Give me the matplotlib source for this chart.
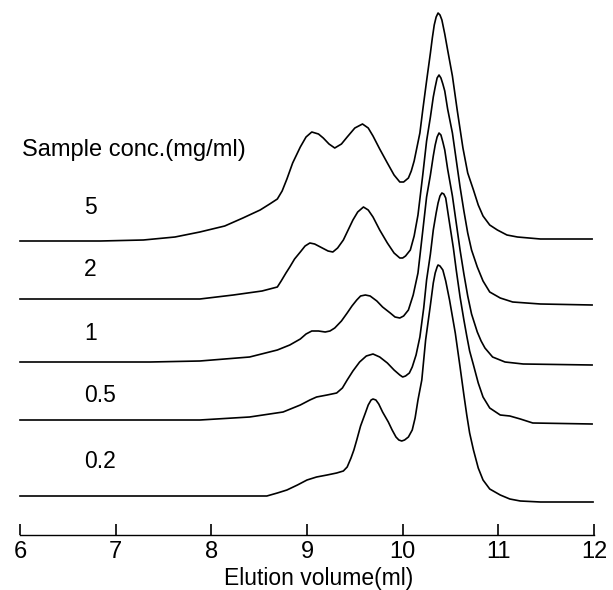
import numpy as np
import matplotlib
matplotlib.use("Agg")
import matplotlib.pyplot as plt

plt.rcParams["font.family"] = ["Liberation Sans", "DejaVu Sans"]

# elution volume (ml) and detector signal (arbitrary units above each baseline)
X_5 = [6.00, 6.84, 7.29, 7.62, 7.88, 8.14, 8.33, 8.51, 8.61, 8.69, 8.74, 8.79,
       8.85, 8.93, 8.99, 9.05, 9.12, 9.17, 9.23, 9.29, 9.36, 9.42, 9.50, 9.58,
       9.64, 9.69, 9.76, 9.84, 9.91, 9.97, 10.01, 10.06, 10.09, 10.12, 10.15,
       10.18, 10.21, 10.25, 10.29, 10.31, 10.33, 10.35, 10.37, 10.39, 10.41,
       10.44, 10.47, 10.52, 10.57, 10.63, 10.68, 10.74, 10.79, 10.84, 10.91,
       10.99, 11.09, 11.20, 11.44, 11.98]
Y_5 = [0, 0, 1, 4, 9, 15, 23, 31, 37, 42, 50, 62,
       78, 94, 104, 109, 107, 103, 97, 93, 97, 104, 113, 117,
       113, 105, 92, 78, 66, 59, 59, 63, 70, 80, 94,
       108, 131, 160, 188, 203, 216, 224, 228, 226, 221,
       207, 191, 165, 131, 93, 68, 51, 36, 25, 16,
       11, 6, 4, 2, 2]

X_2 = [6.00, 7.05, 7.88, 8.23, 8.53, 8.69, 8.73, 8.78, 8.82, 8.87, 8.93, 8.98,
       9.03, 9.08, 9.16, 9.22, 9.27, 9.32, 9.38, 9.43, 9.48, 9.53, 9.59, 9.64,
       9.69, 9.76, 9.84, 9.91, 9.97, 10.00, 10.03, 10.08, 10.12, 10.16, 10.21,
       10.25, 10.29, 10.32, 10.34, 10.36, 10.38, 10.40, 10.42, 10.44, 10.47,
       10.52, 10.56, 10.60, 10.64, 10.68, 10.72, 10.78, 10.84, 10.91, 11.02,
       11.15, 11.44, 11.98]
Y_2 = [0, 0, 0, 4, 8, 12, 18, 26, 32, 40, 47, 53,
       56, 55, 51, 48, 47, 51, 59, 69, 79, 87, 92, 89,
       82, 69, 56, 46, 41, 41, 43, 49, 63, 84, 124,
       158, 182, 202, 212, 221, 224, 221, 215, 208, 190,
       166, 139, 112, 88, 66, 49, 32, 18, 7, 1,
       -3, -5, -6]

X_1 = [6.00, 7.36, 7.88, 8.40, 8.69, 8.82, 8.93, 8.99, 9.05, 9.12, 9.19, 9.24,
       9.29, 9.36, 9.42, 9.47, 9.52, 9.56, 9.61, 9.66, 9.73, 9.79, 9.87, 9.92,
       9.97, 10.01, 10.06, 10.11, 10.16, 10.21, 10.25, 10.29, 10.32, 10.34,
       10.36, 10.38, 10.40, 10.42, 10.44, 10.47, 10.52, 10.56, 10.60, 10.64,
       10.68, 10.72, 10.78, 10.82, 10.86, 10.94, 11.07, 11.26, 11.98]
Y_1 = [0, 0, 1, 5, 12, 17, 23, 28, 31, 31, 30, 31,
       34, 41, 49, 56, 62, 66, 67, 66, 61, 55, 49, 45,
       44, 46, 52, 67, 89, 131, 165, 187, 206, 217,
       225, 229, 227, 220, 212, 193, 166, 139, 112, 88,
       66, 48, 30, 21, 14, 5, 0, -2, -3]

X_05 = [6.00, 7.36, 7.88, 8.40, 8.75, 8.93, 9.03, 9.10, 9.21, 9.31, 9.37, 9.42,
        9.48, 9.55, 9.62, 9.69, 9.76, 9.84, 9.91, 9.97, 10.00, 10.03, 10.07,
        10.10, 10.14, 10.18, 10.22, 10.25, 10.29, 10.32, 10.35, 10.37, 10.39,
        10.41, 10.43, 10.45, 10.48, 10.53, 10.56, 10.60, 10.64, 10.67, 10.70,
        10.74, 10.79, 10.84, 10.91, 11.02, 11.12, 11.23, 11.36, 11.98]
Y_05 = [0, 0, 0, 3, 8, 15, 20, 23, 25, 27, 32, 40,
        49, 58, 64, 66, 63, 57, 50, 45, 43, 44, 47,
        53, 65, 83, 112, 140, 166, 190, 207, 217, 224,
        227, 226, 222, 203, 172, 150, 123, 100, 84, 69,
        55, 37, 23, 12, 5, 4, 1, -3, -4]

X_02 = [6.00, 7.36, 7.88, 8.58, 8.69, 8.79, 8.90, 9.00, 9.10, 9.21, 9.31, 9.38,
        9.42, 9.46, 9.49, 9.52, 9.56, 9.61, 9.64, 9.67, 9.69, 9.72, 9.75, 9.79,
        9.85, 9.89, 9.93, 9.96, 9.99, 10.02, 10.06, 10.10, 10.13, 10.16, 10.20,
        10.24, 10.29, 10.32, 10.34, 10.36, 10.37, 10.39, 10.42, 10.45, 10.49,
        10.55, 10.60, 10.64, 10.67, 10.70, 10.74, 10.79, 10.84, 10.91, 11.02,
        11.12, 11.23, 11.44, 11.99]
Y_02 = [0, 0, 0, 0, 3, 6, 11, 16, 19, 21, 23, 25,
        29, 38, 46, 56, 70, 83, 91, 96, 97, 96, 92, 84,
        74, 66, 59, 56, 55, 56, 59, 66, 78, 96, 116,
        156, 191, 213, 223, 229, 231, 230, 226, 215, 196,
        163, 129, 101, 81, 63, 46, 28, 16, 7, 1,
        -3, -5, -6, -6]

CONC_LABELS = ["5", "2", "1", "0.5", "0.2"]
BASELINES = [294, 236, 173, 115, 39]
X_TICKS = [6, 7, 8, 9, 10, 11, 12]

traces = [(X_5, Y_5), (X_2, Y_2), (X_1, Y_1), (X_05, Y_05), (X_02, Y_02)]
label_y = [328, 265, 202, 139, 73]

fig = plt.figure(figsize=(6.13, 5.90), dpi=100)
ax = fig.add_axes([20 / 613, 55 / 590, 574 / 613, 535 / 590])

for (xs, ys), base, lab, ly in zip(traces, BASELINES, CONC_LABELS, label_y):
    ax.plot(xs, np.array(ys) + base, color="black", lw=1.2,
            solid_joinstyle="round", clip_on=False)
    ax.text(6.67, ly, lab, fontsize=16.5, ha="left", va="center")

ax.text(6.02, 385, "Sample conc.(mg/ml)", fontsize=17, ha="left", va="center")

ax.set_xlim(6, 12)
ax.set_ylim(0, 535)
for s in ["top", "right", "left"]:
    ax.spines[s].set_visible(False)
ax.spines["bottom"].set_linewidth(1.0)
ax.set_yticks([])
ax.set_xticks(X_TICKS)
ax.tick_params(axis="x", direction="in", length=8, width=1.2, labelsize=17, pad=4)
ax.set_xlabel("Elution volume(ml)", fontsize=16.5, labelpad=3)
ax.xaxis.label.set_x(0.52)

fig.savefig("out.png", dpi=100)
